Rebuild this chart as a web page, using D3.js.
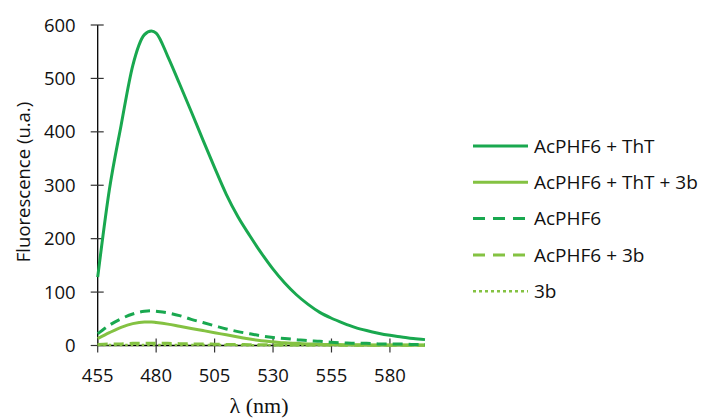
<!DOCTYPE html>
<html><head><meta charset="utf-8">
<script src="https://cdn.jsdelivr.net/npm/d3@7"></script>
<style>body{margin:0;background:#fff}svg{display:block}</style>
</head><body>
<svg id="c" width="706" height="418"></svg>
<script>
const wavelengths = [455,460,465,470,475,478,480,485,490,495,500,505,510,515,520,525,530,535,540,545,550,555,560,565,570,575,580,585,590,595];
const thtValues    = [128,292,412,524,582,589,585,541,490,438,385,333,283,241,206,173,143,117,95,77,62,51,42,34,28,23,19,16,13,11];
const tht3bValues  = [13,24,34,41,44,44,43,40,36,32,28,24,20,16,12,9,7,5,4,3,2,2,1.5,1.5,1,1,1,1,1,1];
const pepValues    = [22,38,50,59,64,65,64,61,56,49,43,37,31,26,22,18,15,13,11,9,8,6,5,4,4,3,3,3,2,2];
const pep3bValues  = [2,3,3,4,4,4,4,4,3.5,3,3,2.5,2,2,1.5,1.5,1,1,1,1,1,1,0.5,0.5,0.5,0.5,0.5,0.5,0.5,0.5];
const b3Values     = [1,1,1,1,1,1,1,1,1,1,1,1,1,0.5,0.5,0.5,0.5,0.5,0.5,0.5,0.5,0.5,0.5,0.5,0.5,0.5,0.5,0.5,0.5,0.5];
const xTicks = [455,480,505,530,555,580];
const yTicks = [0,100,200,300,400,500,600];
const seriesNames = ["AcPHF6 + ThT","AcPHF6 + ThT + 3b","AcPHF6","AcPHF6 + 3b","3b"];

const dark = "#19a84f", light = "#84c242";
const series = [
  {name: seriesNames[0], values: thtValues,   color: dark,  dash: null,   w: 3},
  {name: seriesNames[1], values: tht3bValues, color: light, dash: null,   w: 3},
  {name: seriesNames[2], values: pepValues,   color: dark,  dash: "10,6", w: 3},
  {name: seriesNames[3], values: pep3bValues, color: light, dash: "10,6", w: 3},
  {name: seriesNames[4], values: b3Values,    color: light, dash: "2.5,3", w: 2.5}
];

const svg = d3.select("#c");
const x = d3.scaleLinear().domain([455,595]).range([97.7,425]);
const y = d3.scaleLinear().domain([0,600]).range([345.5,25]);
const font = "'Open Sans', 'DejaVu Sans', sans-serif";

// y axis
const ya = svg.append("g").attr("transform","translate(97.7,0)");
ya.append("line").attr("y1",y(0)).attr("y2",y(600)).attr("stroke","#000").attr("stroke-width",1.3);
ya.selectAll("line.t").data(yTicks).join("line").attr("class","t")
  .attr("x1",-7).attr("x2",6).attr("y1",d=>y(d)).attr("y2",d=>y(d)).attr("stroke","#333").attr("stroke-width",1.2);
ya.selectAll("text").data(yTicks).join("text")
  .attr("x",-22).attr("y",d=>y(d)).attr("dy","0.36em").attr("text-anchor","end")
  .attr("font-family",font).attr("font-size",18.5).attr("fill","#111").text(d=>d);

// x axis
const xa = svg.append("g").attr("transform",`translate(0,${y(0)})`);
xa.append("line").attr("x1",x(455)).attr("x2",x(595)).attr("stroke","#000").attr("stroke-width",1.3);
xa.selectAll("line.t").data(xTicks).join("line").attr("class","t")
  .attr("x1",d=>x(d)).attr("x2",d=>x(d)).attr("y1",-7).attr("y2",7).attr("stroke","#333").attr("stroke-width",1.2);
xa.selectAll("text").data(xTicks).join("text")
  .attr("x",d=>x(d)).attr("y",30).attr("dy","0.36em").attr("text-anchor","middle")
  .attr("font-family",font).attr("font-size",18.5).attr("fill","#111").text(d=>d);

// titles
svg.append("text").attr("transform","translate(23,182) rotate(-90)").attr("text-anchor","middle")
  .attr("dy","0.36em").attr("font-family",font).attr("font-size",18.5).attr("fill","#111").text("Fluorescence (u.a.)");
svg.append("text").attr("x",259).attr("y",413).attr("text-anchor","middle")
  .attr("font-family","'Liberation Serif', 'DejaVu Serif', serif").attr("font-size",22).attr("fill","#111").text("λ (nm)");

// lines
const line = d3.line().x((d,i)=>x(wavelengths[i])).y(d=>y(d)).curve(d3.curveMonotoneX);
const order = [4,3,1,2,0];
order.forEach(k=>{
  const s = series[k];
  svg.append("path").attr("d",line(s.values)).attr("fill","none")
    .attr("stroke",s.color).attr("stroke-width",s.w)
    .attr("stroke-dasharray",s.dash).attr("stroke-linejoin","round");
});

// legend
const lg = svg.append("g");
series.forEach((s,i)=>{
  const yy = 146 + i*36.3;
  lg.append("line").attr("x1",473).attr("x2",528).attr("y1",yy).attr("y2",yy)
    .attr("stroke",s.color).attr("stroke-width",s.w)
    .attr("stroke-dasharray", s.dash ? (i===4 ? "3,3" : "12,8") : null);
  lg.append("text").attr("x",534).attr("y",yy).attr("dy","0.36em")
    .attr("font-family",font).attr("font-size",19).attr("fill","#111").text(s.name);
});
</script>
</body></html>
